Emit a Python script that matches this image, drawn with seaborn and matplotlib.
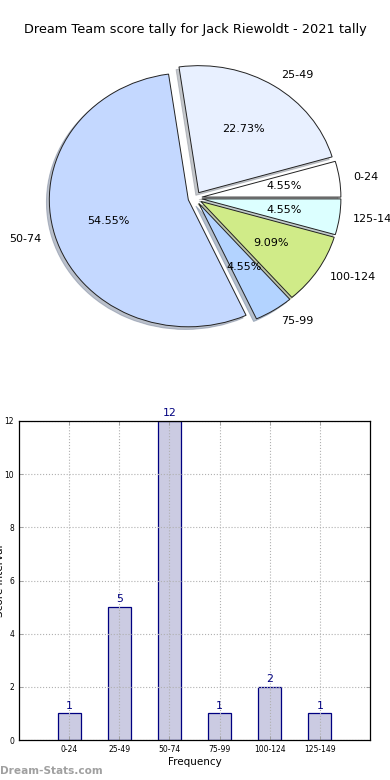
import matplotlib
matplotlib.use("Agg")
import matplotlib.pyplot as plt
import seaborn as sns
import pandas as pd

# ---- data ----
categories = ["0-24", "25-49", "50-74", "75-99", "100-124", "125-149"]
counts = [1, 5, 12, 1, 2, 1]
pie_colors = ["#ffffff", "#e8f0ff", "#c4d8ff", "#b3d3ff", "#d0eb88", "#dcffff"]
yticks = [0, 2, 4, 6, 8, 10, 12]
title = "Dream Team score tally for Jack Riewoldt - 2021 tally"
xlabel = "Frequency"
ylabel = "Score Interval"
watermark = "Dream-Stats.com"

df = pd.DataFrame({"cat": categories, "n": counts})

plt.rcParams["font.family"] = ["DejaVu Sans"]
fig = plt.figure(figsize=(3.9, 7.8), dpi=100)

# ---- pie ----
W, H = 390.0, 780.0
cx, cy = 195.0, 198.0
rx, ry = 139.0, 127.0
axw, axh = 2.5 * rx, 2.5 * ry
ax1 = fig.add_axes([(cx - axw / 2) / W, (H - cy - axh / 2) / H, axw / W, axh / H])
wedges, texts, autotexts = ax1.pie(
    counts, labels=categories, colors=pie_colors, explode=[0.05] * len(counts),
    autopct="%.2f%%", shadow={"ox": -0.015, "oy": -0.015, "shade": 0.4},
    startangle=0,
    wedgeprops=dict(edgecolor="#222222", linewidth=0.7),
    textprops=dict(fontsize=8))
ax1.set_aspect("auto")
ax1.set_xlim(-1.25, 1.25)
ax1.set_ylim(-1.25, 1.25)
fig.text(0.5, 1 - 30 / H, title, ha="center", va="center", fontsize=9.3)

# ---- bars ----
ax2 = fig.add_axes([19 / W, (H - 740) / H, (370 - 19) / W, (740 - 421) / H])
sns.barplot(data=df, x="cat", y="n", ax=ax2, width=0.46,
            color="#cbcbe2", edgecolor="#000080", linewidth=0.9, saturation=1)
for p in ax2.patches:
    p.set_facecolor("#cbcbe2")
for i, v in enumerate(counts):
    ax2.annotate(str(v), (i, v), xytext=(0, 2), textcoords="offset points",
                 ha="center", va="bottom", color="#000080", fontsize=7.8,
                 annotation_clip=False)
ax2.set_xlim(-1, len(categories))
ax2.set_ylim(0, 12)
ax2.set_yticks(yticks)
ax2.set_xlabel(xlabel, fontsize=7.5, labelpad=2)
ax2.set_ylabel(ylabel, fontsize=7.5, labelpad=0)
ax2.tick_params(axis="both", labelsize=5.5, direction="in", length=3,
                top=True, right=True, width=0.6, color="#999999")
ax2.grid(True, linestyle=":", color="#b0b0b0", linewidth=0.8)
ax2.set_axisbelow(False)
for s in ax2.spines.values():
    s.set_color("black")
    s.set_linewidth(0.9)
    s.set_zorder(6)

fig.text(0.0, 1 - 771 / H, watermark, ha="left", va="center", fontsize=7.6,
         color="#a0a0a0", fontweight="semibold")

fig.savefig("out.png", dpi=100)
